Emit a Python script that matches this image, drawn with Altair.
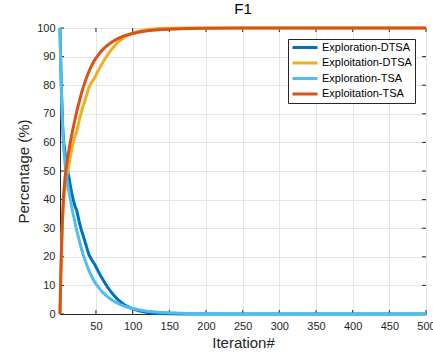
import altair as alt
import pandas as pd

# Iterations at which the balance of exploration / exploitation was recorded
iterations = [1, 2, 3, 4, 5, 6, 8, 10, 12, 15, 18, 21, 24, 27, 30, 33, 36, 40, 44, 48,
              52, 56, 60, 65, 70, 75, 80, 85, 90, 100, 110, 120, 135, 150, 175, 200,
              250, 300, 400, 500]

exploration_dtsa = [100, 88, 78, 70, 64, 60, 56, 52.5, 49.5, 45, 41, 38, 36, 32.5, 29.5,
                    27, 24.5, 21, 19, 17.5, 15.5, 13.5, 11.8, 9.7, 7.9, 6.4, 5, 4, 3, 1.8,
                    1, 0.5, 0.2, 0.1, 0, 0, 0, 0, 0, 0]
exploitation_dtsa = [0, 12, 22, 30, 36, 40, 44, 47.5, 50.5, 55, 59, 62, 64, 67.5, 70.5,
                     73, 75.5, 79, 81, 82.5, 84.5, 86.5, 88.2, 90.3, 92.1, 93.6, 95, 96, 97,
                     98.2, 99, 99.5, 99.8, 99.9, 100, 100, 100, 100, 100, 100]
exploration_tsa = [100, 87, 77, 69, 63, 58, 52, 48, 44.5, 40, 36, 32.5, 29, 26, 23, 20.5,
                   18.2, 15.5, 13.2, 11.3, 9.8, 8.5, 7.4, 6.2, 5.2, 4.4, 3.7, 3.1, 2.6, 1.9,
                   1.4, 1.0, 0.6, 0.4, 0.2, 0.1, 0, 0, 0, 0]
exploitation_tsa = [0, 13, 23, 31, 37, 42, 48, 52, 55.5, 60, 64, 67.5, 71, 74, 77, 79.5,
                    81.8, 84.5, 86.8, 88.7, 90.2, 91.5, 92.6, 93.8, 94.8, 95.6, 96.3, 96.9,
                    97.4, 98.1, 98.6, 99.0, 99.4, 99.6, 99.8, 99.9, 100, 100, 100, 100]

series_names = ["Exploration-DTSA", "Exploitation-DTSA", "Exploration-TSA", "Exploitation-TSA"]
series_colors = ["#0072BD", "#EDB120", "#4DBEEE", "#D95319"]

x_ticks = [50, 100, 150, 200, 250, 300, 350, 400, 450, 500]
y_ticks = [0, 10, 20, 30, 40, 50, 60, 70, 80, 90, 100]

rows = []
for name, values in zip(series_names,
                        [exploration_dtsa, exploitation_dtsa, exploration_tsa, exploitation_tsa]):
    for it, v in zip(iterations, values):
        rows.append({"series": name, "iteration": it, "value": v})
df = pd.DataFrame(rows)

W, H = 366, 286
FONT = "Liberation Sans"
INK = "#262626"

x_scale = alt.Scale(domain=[1, 500], nice=False, zero=False)
y_scale = alt.Scale(domain=[0, 100], nice=False, zero=True)

axis_style = dict(grid=True, tickSize=0, gridColor="#E5E5E5", gridWidth=1,
                  domainColor=INK, domainWidth=1,
                  labelFont=FONT, labelFontSize=11, labelColor=INK,
                  titleFont=FONT, titleFontSize=15, titleFontWeight="normal",
                  titleColor=INK)
x_axis = alt.Axis(values=x_ticks, title="Iteration#", labelPadding=6, titlePadding=4,
                  labelFlush=False, **axis_style)
y_axis = alt.Axis(values=y_ticks, title="Percentage (%)", labelPadding=5,
                  titlePadding=5, **axis_style)

lines = alt.Chart(df).mark_line(strokeWidth=3, clip=False).encode(
    x=alt.X("iteration:Q", scale=x_scale, axis=x_axis),
    y=alt.Y("value:Q", scale=y_scale, axis=y_axis),
    color=alt.Color("series:N",
                    scale=alt.Scale(domain=series_names, range=series_colors),
                    sort=series_names,
                    legend=alt.Legend(orient="none", legendX=228, legendY=11, title=None,
                                      symbolType="stroke", symbolSize=625,
                                      symbolStrokeWidth=3, symbolOffset=0,
                                      clipHeight=11,
                                      labelFontSize=11, labelFont=FONT,
                                      labelColor="#000000", labelOffset=3,
                                      rowPadding=3.5, padding=3,
                                      strokeColor=INK, fillColor="white")),
)

# Inward tick marks on all four sides of the box
xt = pd.DataFrame({"iteration": x_ticks})
yt = pd.DataFrame({"value": y_ticks})
tick_len = 4
bottom_ticks = alt.Chart(xt).mark_rule(color=INK, strokeWidth=1).encode(
    x=alt.X("iteration:Q", scale=x_scale, axis=x_axis),
    y=alt.value(H), y2=alt.value(H - tick_len))
top_ticks = alt.Chart(xt).mark_rule(color=INK, strokeWidth=1).encode(
    x=alt.X("iteration:Q", scale=x_scale, axis=x_axis),
    y=alt.value(0), y2=alt.value(tick_len))
left_ticks = alt.Chart(yt).mark_rule(color=INK, strokeWidth=1).encode(
    y=alt.Y("value:Q", scale=y_scale, axis=y_axis),
    x=alt.value(0), x2=alt.value(tick_len))
right_ticks = alt.Chart(yt).mark_rule(color=INK, strokeWidth=1).encode(
    y=alt.Y("value:Q", scale=y_scale, axis=y_axis),
    x=alt.value(W), x2=alt.value(W - tick_len))

chart = alt.layer(bottom_ticks, top_ticks, left_ticks, right_ticks, lines).properties(
    width=W, height=H,
    title=alt.Title("F1", fontSize=15, font=FONT, fontWeight="normal", color="#000000",
                    offset=5),
    autosize=alt.AutoSizeParams(type="none"),
    padding={"left": 60, "top": 28, "right": 7, "bottom": 42},
    background="white",
).configure_view(
    stroke=INK, strokeWidth=1
)

chart.save("out.html", embed_options={"renderer": "svg", "actions": False})
